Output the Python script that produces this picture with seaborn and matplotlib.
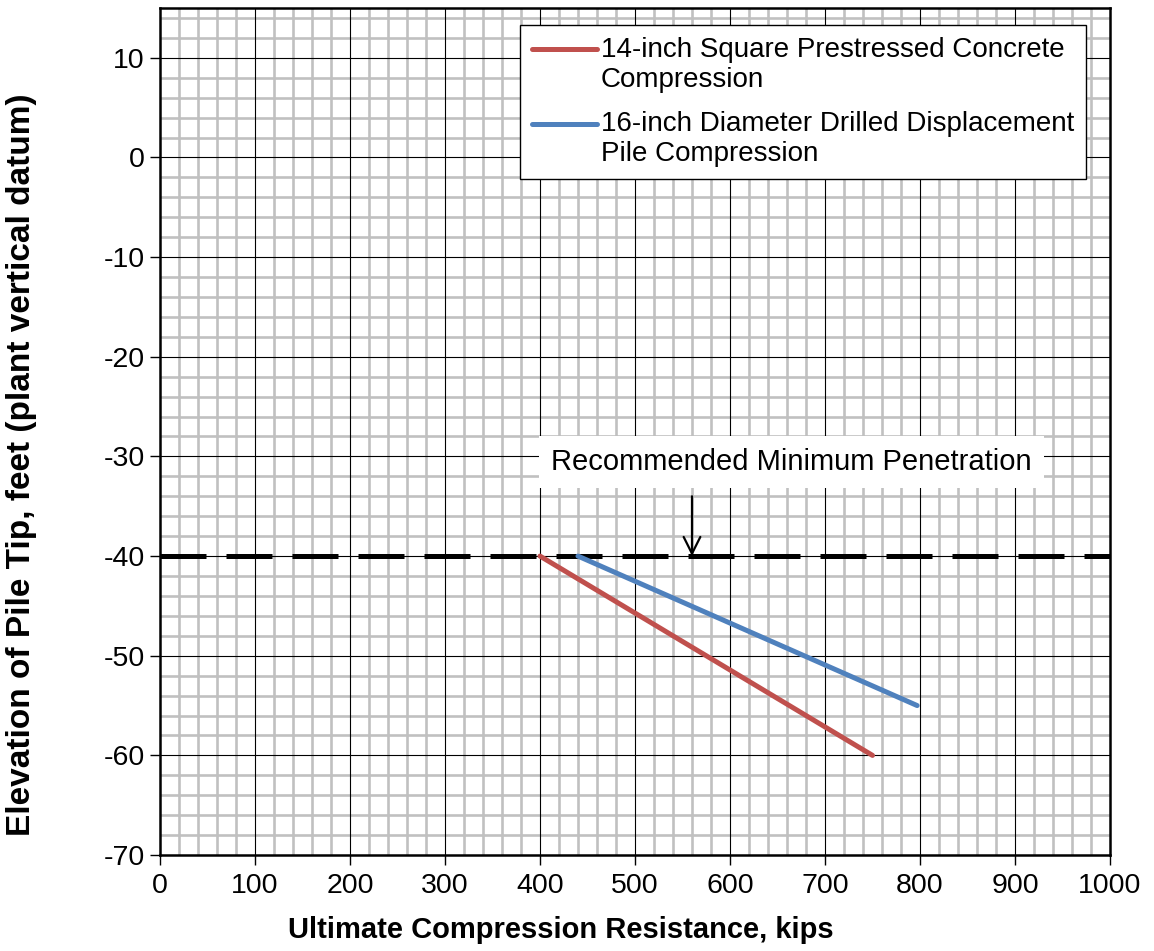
import matplotlib
matplotlib.use("Agg")
import matplotlib.pyplot as plt
from matplotlib.ticker import MultipleLocator
from matplotlib.legend_handler import HandlerLine2D
import pandas as pd
import seaborn as sns

# Pile capacity curves: resistance (kips) vs tip elevation (ft)
series_names = [
    "14-inch Square Prestressed Concrete\nCompression",
    "16-inch Diameter Drilled Displacement\nPile Compression",
]
concrete_kips = [400, 750]
concrete_elev = [-40, -60]
ddp_kips = [440, 797]
ddp_elev = [-40, -55]
min_penetration_elev = -40
arrow_kips = 560
annotation_text = "Recommended Minimum Penetration"
colors = ["#C0504D", "#4F81BD"]

df = pd.DataFrame({
    "kips": concrete_kips + ddp_kips,
    "elev": concrete_elev + ddp_elev,
    "series": [series_names[0]] * len(concrete_kips) + [series_names[1]] * len(ddp_kips),
})

sns.set_theme(style="white")
plt.rcParams["font.family"] = ["Liberation Sans", "DejaVu Sans"]
plt.rcParams["axes.unicode_minus"] = False
plt.rcParams["text.color"] = "black"
plt.rcParams["axes.labelcolor"] = "black"
plt.rcParams["xtick.color"] = "black"
plt.rcParams["ytick.color"] = "black"

fig = plt.figure(figsize=(11.54, 9.51), dpi=100)
ax = fig.add_axes([0.1386, 0.1009, 0.8233, 0.8907])

sns.lineplot(data=df, x="kips", y="elev", hue="series", palette=colors,
             hue_order=series_names, linewidth=3.6, ax=ax, sort=False,
             solid_capstyle="round", zorder=3)

ax.set_xlim(0, 1000)
ax.set_ylim(-70, 15)
ax.xaxis.set_major_locator(MultipleLocator(100))
ax.xaxis.set_minor_locator(MultipleLocator(20))
ax.yaxis.set_major_locator(MultipleLocator(10))
ax.yaxis.set_minor_locator(MultipleLocator(2))

# Grid: light grey minor grid under thin black major grid
ax.set_axisbelow(True)
ax.grid(which="minor", color="#c0c0c0", linewidth=1.9)
ax.grid(which="major", visible=False)
for xv in range(100, 1000, 100):
    ax.axvline(xv, color="black", linewidth=0.8, zorder=1)
for yv in range(-60, 15, 10):
    ax.axhline(yv, color="black", linewidth=0.8, zorder=1)

# Minimum penetration line
dash = ax.axhline(min_penetration_elev, color="black", linewidth=3.6, zorder=2.5)
dash.set_dashes([9.2, 4.0])
dash.set_dash_capstyle("butt")

# Label box and arrow pointing at the minimum penetration line
ax.text(665, -30.55, annotation_text, fontsize=21, ha="center", va="center",
        bbox=dict(boxstyle="square,pad=0.42", fc="white", ec="none"), zorder=4)
ax.annotate("", xy=(arrow_kips, min_penetration_elev),
            xytext=(arrow_kips, -34.0), textcoords="data",
            arrowprops=dict(arrowstyle="->", color="black", lw=1.6,
                            mutation_scale=30, shrinkA=0, shrinkB=0),
            zorder=4)

for side in ["left", "bottom", "top", "right"]:
    ax.spines[side].set_color("black")
    ax.spines[side].set_linewidth(1.8)
    ax.spines[side].set_visible(True)

ax.tick_params(axis="both", which="major", direction="out", length=7, width=1,
               color="black", labelsize=20.5, pad=4, left=True, bottom=True,
               labelcolor="black")
ax.tick_params(axis="x", which="major", pad=6)
ax.tick_params(axis="both", which="minor", length=0)

ax.set_xlabel("Ultimate Compression Resistance, kips", fontsize=21,
              fontweight="bold", color="black", ha="center", va="center")
ax.set_ylabel("Elevation of Pile Tip, feet (plant vertical datum)", fontsize=24,
              fontweight="bold", color="black", ha="center", va="center")
ax.xaxis.set_label_coords(0.422, -0.0885)
ax.yaxis.set_label_coords(-0.1453, 0.4605)


class TopLineHandler(HandlerLine2D):
    """Legend line aligned with the first row of a two-line label."""

    def create_artists(self, legend, orig_handle, xdescent, ydescent,
                       width, height, fontsize, trans):
        artists = super().create_artists(legend, orig_handle, xdescent, ydescent,
                                         width, height, fontsize, trans)
        for a in artists:
            a.set_ydata([y + 0.58 * fontsize for y in a.get_ydata()])
            xd = a.get_xdata()
            if len(xd) == 2:
                a.set_xdata([xd[0] + 0.35 * fontsize, xd[1]])
            a.set_solid_capstyle("round")
        return artists


handles, labels = ax.get_legend_handles_labels()
leg = ax.legend(handles, labels, loc="upper right", bbox_to_anchor=(0.9747, 0.98),
                borderaxespad=0, fontsize=20, frameon=True, fancybox=False,
                framealpha=1, edgecolor="black", handlelength=2.35,
                handletextpad=0.15, labelspacing=0.68, borderpad=0.42,
                handler_map={h: TopLineHandler() for h in handles})
leg.get_frame().set_linewidth(1.0)
leg.set_zorder(5)
for t in leg.get_texts():
    t.set_color("black")

fig.savefig("out.png", dpi=100)
